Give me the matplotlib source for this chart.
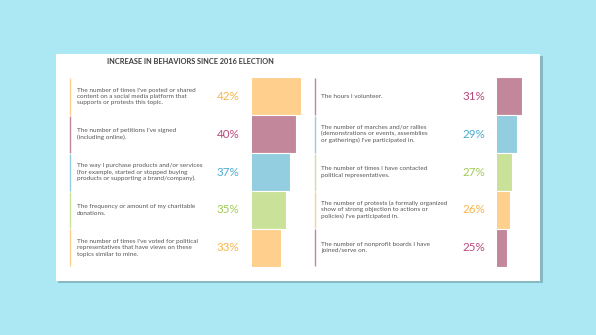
import matplotlib.pyplot as plt
from matplotlib.patches import Rectangle

# data
left_labels = [
    "The number of times I've posted or shared\ncontent on a social media platform that\nsupports or protests this topic.",
    "The number of petitions I've signed\n(including online).",
    "The way I purchase products and/or services\n(for example, started or stopped buying\nproducts or supporting a brand/company).",
    "The frequency or amount of my charitable\ndonations.",
    "The number of times I've voted for political\nrepresentatives that have views on these\ntopics similar to mine.",
]
left_values = [42, 40, 37, 35, 33]
right_labels = [
    "The hours I volunteer.",
    "The number of marches and/or rallies\n(demonstrations or events, assemblies\nor gatherings) I've participated in.",
    "The number of times I have contacted\npolitical representatives.",
    "The number of protests (a formally organized\nshow of strong objection to actions or\npolicies) I've participated in.",
    "The number of nonprofit boards I have\njoined/serve on.",
]
right_values = [31, 29, 27, 26, 25]
title = "INCREASE IN BEHAVIORS SINCE 2016 ELECTION"

bar_col = {"o": "#fecf8d", "m": "#c3879b", "b": "#93cde0", "g": "#cae19a"}
txt_col = {"o": "#f7b44c", "m": "#b84a7b", "b": "#4badd0", "g": "#a2cb58"}
left_keys = ["o", "m", "b", "g", "o"]
right_keys = ["m", "b", "g", "o", "m"]

W, H = 596, 335
fig = plt.figure(figsize=(W / 100, H / 100), dpi=100)
fig.patch.set_facecolor("#abe8f3")
plt.rcParams["font.family"] = ["Lato", "DejaVu Sans"]

# overlay in pixel coords
ov = fig.add_axes([0, 0, 1, 1])
ov.set_xlim(0, W)
ov.set_ylim(H, 0)
ov.axis("off")
ov.add_patch(Rectangle((57.5, 55.5), 485, 227.5, facecolor="#86b9c2", edgecolor="none"))
ov.add_patch(Rectangle((55.7, 54), 484.5, 227, facecolor="white", edgecolor="none"))
ov.text(190, 62, title, fontsize=5.35, fontweight="bold", color="#3c3c3c",
        ha="center", va="center")

row_top, row_h = 77.3, 37.9


def draw_panel(labels, values, keys, line_x, pct_x, bar_x, v0, slope):
    for i, (lab, val, k) in enumerate(zip(labels, values, keys)):
        yc = row_top + row_h * (i + 0.5)
        ov.plot([line_x, line_x], [row_top + row_h * i + 0.5, row_top + row_h * (i + 1) - 0.5],
                color=bar_col[k], lw=1.0, solid_capstyle="butt")
        ov.text(line_x + 6.4, yc, lab, fontsize=4.6, color="#555555",
                ha="left", va="center", linespacing=1.3)
        ov.text(pct_x, yc, f"{val}%", fontsize=8.4, color=txt_col[k],
                ha="center", va="center")
    width_px = 60
    ax = fig.add_axes([bar_x / W, 1 - (row_top + row_h * 5) / H,
                       width_px / W, row_h * 5 / H])
    ax.barh(range(len(values)), values, height=1.0,
            color=[bar_col[k] for k in keys], edgecolor="white", linewidth=0.8)
    ax.set_xlim(v0, v0 + width_px / slope)
    ax.set_ylim(len(values) - 0.5, -0.5)
    ax.axis("off")


draw_panel(left_labels, left_values, left_keys, 70.3, 228, 252.3, 19.6, 2.16)
draw_panel(right_labels, right_values, right_keys, 315, 474, 497.3, 21.0, 2.45)

fig.savefig("out.png", dpi=100, facecolor=fig.get_facecolor())
